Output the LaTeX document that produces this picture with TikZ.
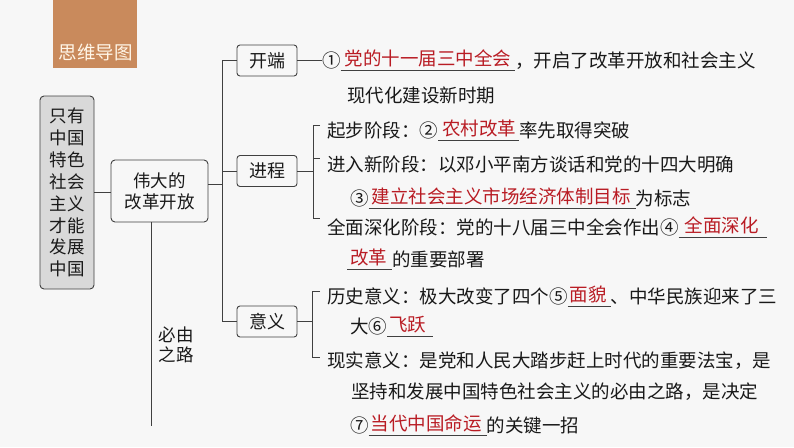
\documentclass[tikz,border=0pt]{standalone}
\usepackage{fontspec}
\setmainfont{Noto Sans CJK SC}
\usetikzlibrary{calc}
\definecolor{bgc}{RGB}{247,247,247}
\definecolor{tabc}{RGB}{201,138,92}
\definecolor{tabtext}{RGB}{255,246,232}
\definecolor{ansc}{RGB}{185,28,36}
\definecolor{inkc}{RGB}{25,25,25}
\definecolor{linec}{RGB}{64,64,64}
\definecolor{graybox}{RGB}{217,217,217}
\newcommand\ansblank[3]{\setbox0\hbox{\hspace{#1}\textcolor{ansc}{\raisebox{1.5pt}{#3}}\hspace{#2}}\rlap{\textcolor{linec}{\rule[-4pt]{\wd0}{0.9pt}}}\box0}
\begin{document}
\begin{tikzpicture}[x=1pt,y=-1pt,
  conn/.style={draw=linec, line width=0.9pt},
  rowtext/.style={anchor=base west, inner sep=0pt, text height=16pt, text depth=2.5pt, font=\fontsize{18.5}{22}\selectfont, text=inkc},
  catbox/.style={draw=linec, line width=0.9pt, rounded corners=3pt, fill=bgc, minimum width=60pt, minimum height=31pt, inner sep=0pt, font=\fontsize{18}{22}\selectfont, text=inkc},
  bigbox/.style={draw=linec, line width=0.9pt, rounded corners=4pt, inner sep=0pt, align=center, text=inkc},
]
\fill[bgc] (0,0) rectangle (794,447);
\useasboundingbox (0,0) rectangle (794,447);
% tab
\fill[tabc] (53,0) rectangle (137,68);
\node[font=\fontsize{18.5}{22}\selectfont, text=tabtext, inner sep=0pt] (tab) at (95.5,52) {思维导图};
% main boxes
\node[bigbox, fill=graybox, minimum width=54pt, minimum height=193pt, font=\fontsize{17.5}{21.9}\selectfont] (zy) at (67,192.5) {只有\\中国\\特色\\社会\\主义\\才能\\发展\\中国};
\node[bigbox, fill=bgc, minimum width=97pt, minimum height=62pt, font=\fontsize{17.5}{21}\selectfont] (wd) at (159.5,191) {伟大的\\改革开放};
\draw[conn] (zy.east) -- (zy.east -| wd.west);
\coordinate (rdend) at (151,426);
\draw[conn] (rdend |- wd.south) -- (rdend);
\node[align=center, font=\fontsize{17.5}{20}\selectfont, inner sep=0pt, text=inkc] (bylz) at (176,345) {必由\\之路};
% category boxes
\node[catbox] (kd) at (267,60.5) {开端};
\node[catbox] (jc) at (267,171) {进程};
\node[catbox] (yy) at (267,321.5) {意义};
\coordinate (trk) at (222,184);
\draw[conn] ([yshift=7pt]wd.east) -- ([yshift=7pt]wd.east -| trk);
\draw[conn] (kd.west) -- (kd.west -| trk) -- (yy.west -| trk) -- (yy.west);
\draw[conn] (jc.west) -- (jc.west -| trk);
% 开端
\node[rowtext] (kd1) at (322,67) {①\ansblank{4pt}{4pt}{党的十一届三中全会}，开启了改革开放和社会主义};
\node[rowtext] (kd2) at (347,102) {现代化建设新时期};
\draw[conn] (kd.east) -- (kd.east -| kd1.west);
% 进程
\node[rowtext] (jc1) at (327,137) {起步阶段：②\ansblank{4pt}{3pt}{农村改革}率先取得突破};
\node[rowtext] (jc2) at (327,171) {进入新阶段：以邓小平南方谈话和党的十四大明确};
\node[rowtext] (jc3) at (350,205) {③\ansblank{3pt}{5pt}{建立社会主义市场经济体制目标}为标志};
\node[rowtext] (jc4) at (327,234) {全面深化阶段：党的十八届三中全会作出④\ansblank{6pt}{8pt}{全面深化}};
\node[rowtext] (jc5) at (347,266) {\ansblank{3pt}{5pt}{改革}的重要部署};
\coordinate (jcv) at ($(jc1.west)+(-14,0)$);
\draw[conn] (jc.east) -- (jc.east -| jcv);
\draw[conn] ($(jc1.west)+(-7,-5)$) -- ($(jc1.west)+(-14,-5)$) -- ($(jc4.west)+(-14,-9)$) -- ($(jc4.west)+(-7,-9)$);
\draw[conn] ($(jc2.west)+(-14,-6)$) -- ($(jc2.west)+(-7,-6)$);
% 意义
\node[rowtext] (yy1) at (327,303) {历史意义：极大改变了四个⑤\ansblank{2pt}{4pt}{面貌}、中华民族迎来了三};
\node[rowtext] (yy2) at (350,333) {大⑥\ansblank{2pt}{7pt}{飞跃}};
\node[rowtext] (yy3) at (327,367) {现实意义：是党和人民大踏步赶上时代的重要法宝，是};
\node[rowtext] (yy4) at (351,398) {坚持和发展中国特色社会主义的必由之路，是决定};
\node[rowtext] (yy5) at (350,432) {⑦\ansblank{2pt}{5pt}{当代中国命运}的关键一招};
\coordinate (yyv) at ($(yy1.west)+(-15,0)$);
\draw[conn] (yy.east) -- (yy.east -| yyv);
\draw[conn] ($(yy1.west)+(-7,-5)$) -- ($(yy1.west)+(-15,-5)$) -- ($(yy3.west)+(-15,-3)$) -- ($(yy3.west)+(-7,-3)$);
\end{tikzpicture}
\end{document}
